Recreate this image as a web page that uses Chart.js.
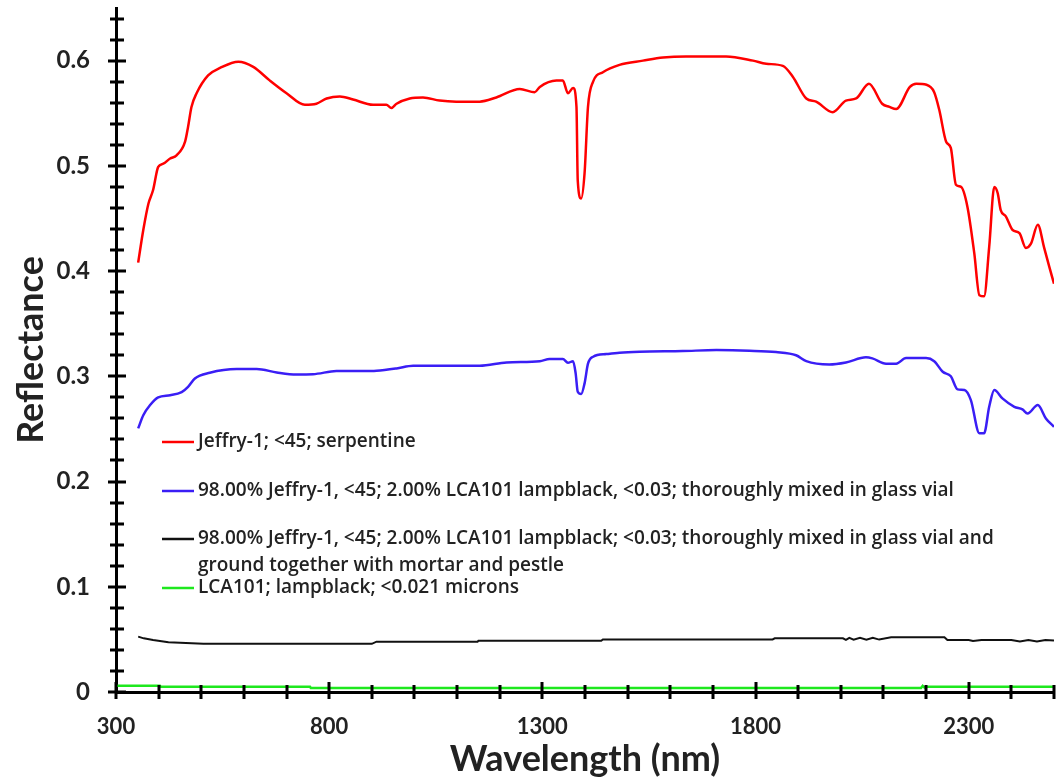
<!DOCTYPE html>
<html>
<head>
<meta charset="utf-8">
<script src="https://cdn.jsdelivr.net/npm/chart.js@4.4.1/dist/chart.umd.min.js"></script>
<style>
  html, body { margin: 0; padding: 0; background: #fff; }
  #wrap { width: 1056px; height: 782px; }
</style>
</head>
<body>
<div id="wrap"><canvas id="c" width="1056" height="782"></canvas></div>
<script>
// Jeffry-1 serpentine (<45 µm)
const jeffryWl = [352, 364, 376, 387, 399, 411, 427, 442, 462, 469, 477, 489, 516, 544, 587, 622, 661, 700, 743, 770, 794, 825, 856, 903, 934, 946, 958, 989, 1020, 1059, 1098, 1153, 1192, 1247, 1282, 1294, 1333, 1348, 1360, 1372, 1380, 1383, 1391, 1399, 1407, 1419, 1442, 1481, 1536, 1583, 1637, 1731, 1794, 1825, 1864, 1887, 1919, 1942, 1981, 2012, 2036, 2066, 2097, 2114, 2130, 2162, 2177, 2201, 2219, 2231, 2247, 2258, 2270, 2282, 2297, 2313, 2325, 2336, 2348, 2360, 2368, 2375, 2387, 2403, 2419, 2434, 2446, 2462, 2477, 2489, 2500];
const jeffryR = [0.408, 0.439, 0.464, 0.477, 0.499, 0.502, 0.507, 0.510, 0.523, 0.537, 0.556, 0.569, 0.586, 0.593, 0.599, 0.594, 0.581, 0.569, 0.558, 0.559, 0.564, 0.566, 0.563, 0.558, 0.558, 0.555, 0.559, 0.564, 0.565, 0.562, 0.561, 0.561, 0.565, 0.573, 0.570, 0.575, 0.581, 0.581, 0.569, 0.574, 0.556, 0.486, 0.469, 0.493, 0.556, 0.580, 0.589, 0.596, 0.600, 0.603, 0.604, 0.604, 0.600, 0.597, 0.595, 0.585, 0.564, 0.561, 0.551, 0.562, 0.564, 0.578, 0.559, 0.556, 0.554, 0.575, 0.578, 0.577, 0.570, 0.553, 0.523, 0.517, 0.482, 0.480, 0.461, 0.417, 0.377, 0.376, 0.423, 0.480, 0.474, 0.458, 0.452, 0.439, 0.436, 0.422, 0.426, 0.444, 0.422, 0.404, 0.388];

// 98% Jeffry-1 + 2% lampblack, mixed in vial
const mixVialWl = [352, 364, 380, 399, 427, 454, 469, 485, 520, 583, 630, 677, 723, 762, 817, 880, 911, 958, 997, 1075, 1153, 1216, 1294, 1317, 1348, 1360, 1372, 1378, 1383, 1391, 1399, 1407, 1419, 1450, 1481, 1528, 1629, 1708, 1786, 1848, 1895, 1919, 1973, 2012, 2059, 2074, 2106, 2130, 2153, 2200, 2219, 2239, 2258, 2274, 2290, 2305, 2325, 2336, 2348, 2360, 2379, 2407, 2426, 2438, 2462, 2481, 2500];
const mixVialR = [0.2505, 0.263, 0.2727, 0.280, 0.282, 0.285, 0.290, 0.298, 0.3034, 0.3069, 0.3069, 0.3037, 0.3018, 0.302, 0.305, 0.305, 0.3053, 0.3075, 0.310, 0.310, 0.310, 0.3132, 0.3144, 0.3164, 0.3164, 0.3128, 0.3144, 0.303, 0.2853, 0.2831, 0.2933, 0.312, 0.3186, 0.3211, 0.3224, 0.3233, 0.324, 0.3249, 0.3243, 0.323, 0.320, 0.3144, 0.3113, 0.3132, 0.318, 0.317, 0.312, 0.312, 0.3173, 0.3173, 0.3144, 0.3043, 0.300, 0.2876, 0.287, 0.2774, 0.2458, 0.2458, 0.271, 0.287, 0.279, 0.271, 0.2685, 0.2647, 0.2727, 0.260, 0.252];

// 98% Jeffry-1 + 2% lampblack, ground with mortar and pestle
const mixGroundWl = [352, 365, 387, 423, 505, 900, 911, 1148, 1150, 1438, 1442, 1840, 1845, 2005, 2012, 2020, 2030, 2045, 2060, 2075, 2090, 2118, 2243, 2250, 2300, 2310, 2330, 2400, 2420, 2440, 2460, 2480, 2500];
const mixGroundR = [0.0526, 0.051, 0.0494, 0.0472, 0.0458, 0.0458, 0.0478, 0.0478, 0.0487, 0.0487, 0.050, 0.050, 0.051, 0.051, 0.0495, 0.0515, 0.0498, 0.0515, 0.0498, 0.0515, 0.0498, 0.052, 0.052, 0.0494, 0.0494, 0.0485, 0.0495, 0.0495, 0.048, 0.0495, 0.048, 0.0495, 0.049];

// LCA101 lampblack
const lampblackWl = [300, 403, 405, 755, 757, 2188, 2192, 2196, 2200, 2500];
const lampblackR = [0.006, 0.006, 0.005, 0.005, 0.0038, 0.0038, 0.0058, 0.0042, 0.005, 0.005];

// legend text, one array of lines per series
const legendLines = [
  ['Jeffry-1; <45; serpentine'],
  ['98.00% Jeffry-1, <45; 2.00% LCA101 lampblack, <0.03; thoroughly mixed in glass vial'],
  ['98.00% Jeffry-1, <45; 2.00% LCA101 lampblack; <0.03; thoroughly mixed in glass vial and', 'ground together with mortar and pestle'],
  ['LCA101; lampblack; <0.021 microns']
];
const seriesColors = ['#ff0000', '#3a1ef5', '#111111', '#1ee81e'];

// axis ticks
const xMajorTicks = [300, 800, 1300, 1800, 2300];
const xMinorStep = 100;
const yMajorStep = 0.1;
const yMinorStep = 0.02;

const FONT = 'Lato, "Open Sans", sans-serif';
const LEGEND_FONT = '"Open Sans", Lato, sans-serif';

function pts(wl, r) { return wl.map((x, i) => ({ x: x, y: r[i] })); }

const seriesData = [pts(jeffryWl, jeffryR), pts(mixVialWl, mixVialR), pts(mixGroundWl, mixGroundR), pts(lampblackWl, lampblackR)];

const datasets = seriesData.map((d, i) => ({
  label: legendLines[i].join(' '),
  data: d,
  borderColor: seriesColors[i],
  backgroundColor: seriesColors[i],
  borderWidth: i === 2 ? 2 : 2.5,
  pointRadius: 0,
  fill: false,
  tension: i >= 2 ? 0 : 0.4,
  cubicInterpolationMode: i >= 2 ? 'default' : 'monotone'
}));

// crossing tick marks on both axes
const tickMarks = {
  id: 'tickMarks',
  afterDraw(chart) {
    const { ctx, scales: { x, y } } = chart;
    const ax = x.left, ay = y.bottom;
    ctx.save();
    ctx.strokeStyle = '#000';
    ctx.lineWidth = 3;
    ctx.beginPath();
    for (let v = x.min; v <= x.max + 1e-9; v += xMinorStep) {
      const px = Math.round(x.getPixelForValue(v));
      const major = xMajorTicks.includes(v);
      ctx.moveTo(px, ay + 7);
      ctx.lineTo(px, ay - (major ? 10 : 7));
    }
    const n = Math.floor(0.64 / yMinorStep + 1e-9);
    for (let i = 0; i <= n; i++) {
      const v = i * yMinorStep;
      const py = Math.round(y.getPixelForValue(v));
      const major = Math.abs(v / yMajorStep - Math.round(v / yMajorStep)) < 1e-6;
      ctx.moveTo(ax - (major ? 8 : 6), py);
      ctx.lineTo(ax + (major ? 10 : 8), py);
    }
    ctx.stroke();
    ctx.restore();
  }
};

// legend drawn inside the plot area
const inlineLegend = {
  id: 'inlineLegend',
  afterDatasetsDraw(chart) {
    const { ctx } = chart;
    const rows = [442, 491, 539, 588];
    const lineH = 27;
    ctx.save();
    ctx.font = '600 19px ' + LEGEND_FONT;
    ctx.textBaseline = 'middle';
    ctx.textAlign = 'left';
    chart.data.datasets.forEach((ds, i) => {
      const yy = rows[i];
      ctx.strokeStyle = ds.borderColor;
      ctx.lineWidth = 2.5;
      ctx.beginPath();
      ctx.moveTo(162, yy);
      ctx.lineTo(194, yy);
      ctx.stroke();
      ctx.fillStyle = '#222';
      legendLines[i].forEach((t, k) => ctx.fillText(t, 198, yy + k * lineH));
    });
    ctx.restore();
  }
};

new Chart(document.getElementById('c'), {
  type: 'line',
  data: { datasets },
  plugins: [tickMarks, inlineLegend],
  options: {
    responsive: false,
    devicePixelRatio: 1,
    animation: false,
    layout: { padding: { top: 8, right: 2, left: 0, bottom: 0 } },
    plugins: { legend: { display: false }, tooltip: { enabled: false } },
    scales: {
      x: {
        type: 'linear',
        min: 300,
        max: 2500,
        afterFit(s) { s.height = 90; s.paddingLeft = 0; s.paddingRight = 0; },
        afterBuildTicks(s) {
          const t = [];
          for (let v = 300; v <= 2500; v += xMinorStep) t.push({ value: v });
          s.ticks = t;
        },
        ticks: {
          autoSkip: false,
          maxRotation: 0,
          padding: 22,
          color: '#222',
          font: { family: FONT, size: 22, weight: 'bold' },
          callback: (v) => xMajorTicks.includes(v) ? String(v) : ''
        },
        grid: { display: false, drawTicks: false },
        border: { display: true, width: 3, color: '#000' },
        title: {
          display: true,
          text: 'Wavelength (nm)',
          color: '#222',
          font: { family: FONT, size: 36, weight: 'bold' },
          padding: { top: 0, bottom: 1 }
        }
      },
      y: {
        min: 0,
        max: 0.65,
        afterFit(s) { s.width = 116; s.paddingTop = 0; s.paddingBottom = 0; },
        afterBuildTicks(s) {
          const t = [];
          for (let i = 0; i <= 6; i++) t.push({ value: +(i * yMajorStep).toFixed(2) });
          s.ticks = t;
        },
        ticks: {
          padding: 26,
          color: '#222',
          font: { family: FONT, size: 24, weight: 'bold' },
          callback: (v) => v === 0 ? '0' : v.toFixed(1)
        },
        grid: { display: false, drawTicks: false },
        border: { display: true, width: 3, color: '#000' },
        title: {
          display: true,
          text: 'Reflectance',
          color: '#222',
          font: { family: FONT, size: 36, weight: 'bold' },
          padding: { top: 10, bottom: 0 }
        }
      }
    }
  }
});
</script>
</body>
</html>
